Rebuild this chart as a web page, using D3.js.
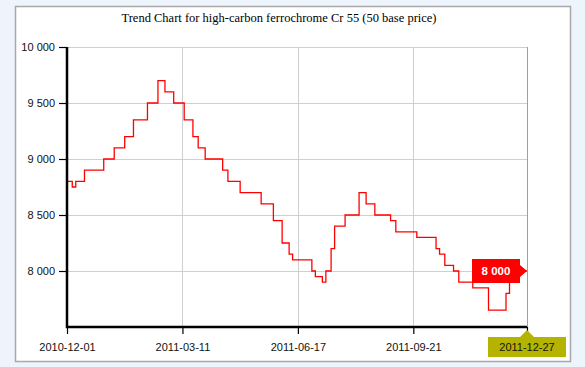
<!DOCTYPE html>
<html>
<head>
<meta charset="utf-8">
<script src="https://cdn.jsdelivr.net/npm/d3@7"></script>
<style>
  html, body { margin: 0; padding: 0; background: #eef4fc; }
  svg { display: block; }
</style>
</head>
<body>
<svg id="chart" width="585" height="367"></svg>
<script>
// ---- data ----
const title = "Trend Chart for high-carbon ferrochrome Cr 55 (50 base price)";
// trading-day index at which each price level begins
const dayIndex = [0, 3, 5, 10, 21, 27, 33, 38, 46, 52, 56, 61, 67, 72, 75, 79, 89, 92, 99, 111,
  118, 123, 127, 129, 140, 142, 146, 148, 151, 153, 159, 167, 171, 176, 185, 188, 200, 211, 213,
  216, 221, 224, 232, 241, 251, 253, 254, 263];
const price = [8800, 8750, 8800, 8900, 9000, 9100, 9200, 9350, 9500, 9700, 9600, 9500, 9350, 9200,
  9100, 9000, 8900, 8800, 8700, 8600, 8450, 8250, 8150, 8100, 8000, 7950, 7900, 8000, 8200, 8400,
  8500, 8700, 8600, 8500, 8450, 8350, 8300, 8200, 8150, 8050, 8000, 7900, 7850, 7650, 7800, 7900,
  8000, 8000];
const tickIndex = [0, 66, 132, 198, 263];
const tickLabels = ["2010-12-01", "2011-03-11", "2011-06-17", "2011-09-21", "2011-12-27"];
const yTicks = [8000, 8500, 9000, 9500, 10000];
const yDomain = [7500, 10000];

// ---- layout ----
const svg = d3.select("#chart");
const m = { left: 67, right: 527, top: 47, bottom: 327 };
const x = d3.scaleLinear().domain([0, 263]).range([m.left, m.right]);
const y = d3.scaleLinear().domain(yDomain).range([m.bottom, m.top]);
const fmt = d3.formatLocale({ decimal: ".", thousands: " ", grouping: [3], currency: ["", ""] }).format(",");
const font = "'Liberation Sans', Arial, sans-serif";

// panel
svg.append("rect").attr("x", 15.5).attr("y", 6.5).attr("width", 555).attr("height", 355)
  .attr("fill", "#fff").attr("stroke", "#a8a8a8").attr("stroke-width", 1.5);

// title
svg.append("text").attr("x", 279).attr("y", 22).attr("text-anchor", "middle")
  .attr("font-family", "'Liberation Serif', 'Times New Roman', serif").attr("font-size", 12.5)
  .attr("fill", "#000").text(title);

// grid
const g = svg.append("g");
g.selectAll("line.hg").data(yTicks).join("line").attr("class", "hg")
  .attr("x1", m.left).attr("x2", m.right)
  .attr("y1", d => Math.round(y(d)) + 0.5).attr("y2", d => Math.round(y(d)) + 0.5)
  .attr("stroke", "#cfcfcf").attr("stroke-width", 1);
g.selectAll("line.vg").data(tickIndex.slice(1, -1)).join("line").attr("class", "vg")
  .attr("x1", d => Math.round(x(d)) + 0.5).attr("x2", d => Math.round(x(d)) + 0.5)
  .attr("y1", m.top).attr("y2", m.bottom)
  .attr("stroke", "#cfcfcf").attr("stroke-width", 1);

// crosshair at last date
const lastI = dayIndex[dayIndex.length - 1];
const lastV = price[price.length - 1];
svg.append("line").attr("x1", x(lastI) + 0.5).attr("x2", x(lastI) + 0.5)
  .attr("y1", m.top).attr("y2", m.bottom).attr("stroke", "#b4b400").attr("stroke-width", 1);

// line
const pts = dayIndex.map((d, i) => [d, price[i]]);
svg.append("path").datum(pts)
  .attr("fill", "none").attr("stroke", "#ff0000").attr("stroke-width", 1.3)
  .attr("d", d3.line().x(d => x(d[0])).y(d => y(d[1])).curve(d3.curveStepAfter));

// axes
const yAxis = svg.append("g").attr("transform", `translate(${m.left},0)`)
  .call(d3.axisLeft(y).tickValues(yTicks).tickFormat(fmt).tickSize(8).tickPadding(4));
const xAxis = svg.append("g").attr("transform", `translate(0,${m.bottom})`)
  .call(d3.axisBottom(x).tickValues(tickIndex).tickFormat((d, i) => tickLabels[i]).tickSize(7).tickPadding(9));
[yAxis, xAxis].forEach(a => {
  a.select(".domain").attr("stroke", "#000").attr("stroke-width", 2.5);
  a.selectAll(".tick line").attr("stroke", "#000").attr("stroke-width", 1.2);
  a.selectAll("text").attr("font-family", font).attr("font-size", 11).attr("fill", "#111");
});
yAxis.select(".domain").attr("d", `M-0,${m.top}V${m.bottom + 1}`);
xAxis.select(".domain").attr("d", `M${m.left - 1},0H${m.right}`);

// red value flag
const px = x(lastI), py = y(lastV);
const flag = svg.append("g");
flag.append("path")
  .attr("d", `M${px - 55},${py - 12}H${px - 7}V${py - 6}L${px},${py}L${px - 7},${py + 6}V${py + 12}H${px - 55}Z`)
  .attr("fill", "#ff0000");
flag.append("text").attr("x", px - 31).attr("y", py + 4).attr("text-anchor", "middle")
  .attr("font-family", font).attr("font-size", 11.5).attr("font-weight", "bold").attr("fill", "#fff")
  .text(fmt(lastV));

// olive date flag
const dflag = svg.append("g");
dflag.append("path")
  .attr("d", `M${px - 39},${m.bottom + 10}H${px - 7}L${px},${m.bottom + 3}L${px + 7},${m.bottom + 10}H${px + 39}V${m.bottom + 30}H${px - 39}Z`)
  .attr("fill", "#b4b400");
dflag.append("text").attr("x", px).attr("y", m.bottom + 24).attr("text-anchor", "middle")
  .attr("font-family", font).attr("font-size", 11).attr("fill", "#111")
  .text(tickLabels[tickLabels.length - 1]);
</script>
</body>
</html>
